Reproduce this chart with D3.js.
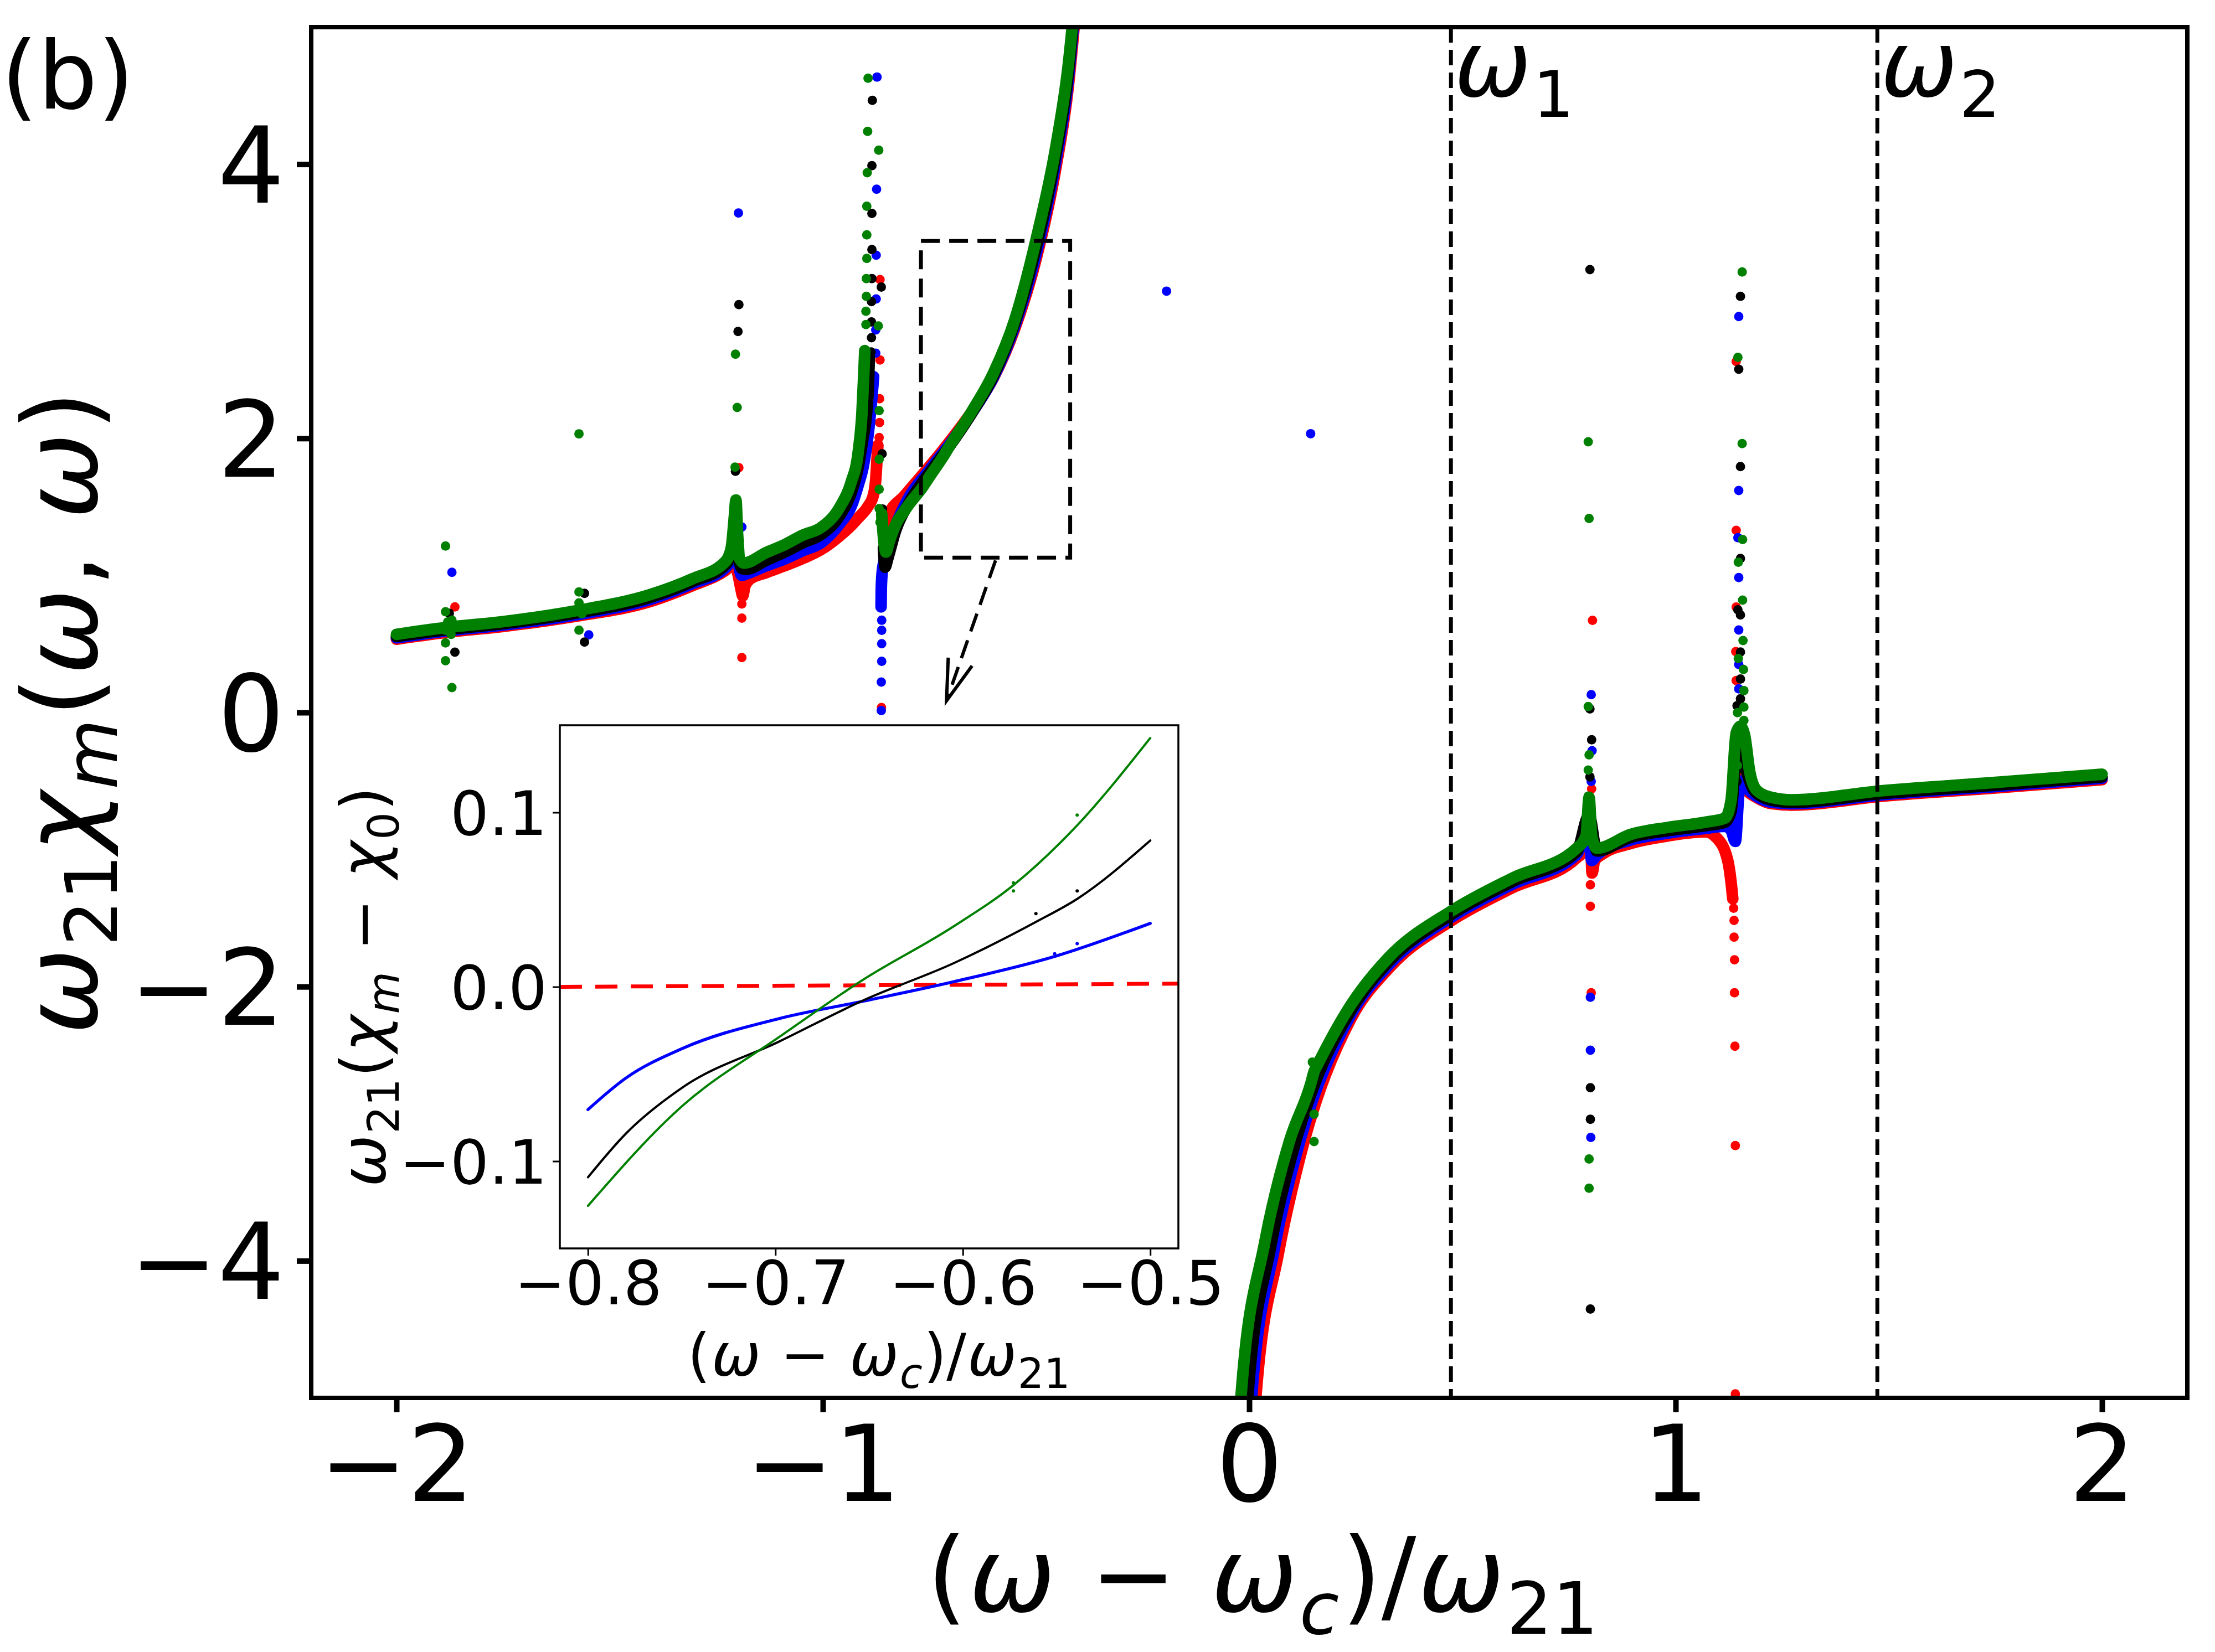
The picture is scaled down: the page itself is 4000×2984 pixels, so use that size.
<!DOCTYPE html>
<html>
<head>
<meta charset="utf-8">
<script src="https://cdn.jsdelivr.net/npm/d3@7"></script>
<style>
  body { margin: 0; background: #fff; }
  text { font-family: "DejaVu Sans", sans-serif; fill: #000; }
</style>
</head>
<body>
<div id="chart"></div>
<script>
// Main panel: curve segments per series (x, y), split at the divergences
const redSegments = [
    [[-2.0, 0.535], [-1.882, 0.585], [-1.753, 0.627], [-1.574, 0.705], [-1.405, 0.81], [-1.3065, 0.925], [-1.229, 1.035], [-1.21, 1.08], [-1.2, 1.02], [-1.192, 0.9], [-1.188, 0.85], [-1.183, 0.92], [-1.17, 0.975], [-1.133, 1.02], [-1.09, 1.07], [-1.047, 1.124], [-1.0035, 1.19], [-0.96, 1.29], [-0.935, 1.36], [-0.917, 1.42], [-0.895, 1.5], [-0.882, 1.58], [-0.876, 1.7], [-0.873, 1.85], [-0.871, 1.95]],
    [[-0.857, 1.25], [-0.854, 1.379], [-0.848, 1.43], [-0.809, 1.58], [-0.765, 1.74], [-0.722, 1.9], [-0.7, 1.987], [-0.65, 2.196], [-0.6, 2.441], [-0.55, 2.8], [-0.5, 3.307], [-0.452, 4.0], [-0.425, 4.55], [-0.405, 5.2]],
    [[0.013, -5.1], [0.016, -4.975], [0.068, -3.95], [0.12, -3.23], [0.239, -2.23], [0.326, -1.87], [0.473, -1.52], [0.616, -1.28], [0.768, -1.06], [0.795, -0.97], [0.8, -0.88], [0.804, -1.17], [0.81, -1.08], [0.83, -1.03], [0.895, -0.955], [0.982, -0.9], [1.07, -0.87], [1.096, -0.914], [1.122, -1.077], [1.131, -1.266], [1.134, -1.36]],
    [[1.155, -0.45], [1.165, -0.56], [1.19, -0.62], [1.226, -0.665], [1.272, -0.675], [1.486, -0.61], [1.75, -0.55], [2.0, -0.49]]
];
const blueSegments = [
    [[-2.0, 0.545], [-1.882, 0.595], [-1.753, 0.637], [-1.574, 0.715], [-1.405, 0.825], [-1.3065, 0.94], [-1.229, 1.055], [-1.21, 1.17], [-1.203, 1.28], [-1.196, 1.05], [-1.19, 1.0], [-1.18, 1.01], [-1.133, 1.07], [-1.09, 1.12], [-1.047, 1.181], [-1.0035, 1.24], [-0.96, 1.38], [-0.934, 1.5], [-0.917, 1.66], [-0.905, 1.8], [-0.893, 2.05], [-0.885, 2.3], [-0.881, 2.45]],
    [[-0.8635, 0.77], [-0.863, 0.9], [-0.861, 1.02], [-0.857, 1.1], [-0.85, 1.2], [-0.829, 1.37], [-0.8, 1.56], [-0.75, 1.77], [-0.7, 1.969], [-0.65, 2.188], [-0.6, 2.445], [-0.55, 2.818], [-0.5, 3.343], [-0.452, 4.05], [-0.425, 4.6], [-0.407, 5.2]],
    [[0.003, -5.1], [0.006, -4.975], [0.058, -3.92], [0.112, -3.2], [0.239, -2.2], [0.326, -1.845], [0.473, -1.495], [0.616, -1.255], [0.768, -1.035], [0.797, -0.85], [0.803, -1.08], [0.815, -1.04], [0.895, -0.93], [0.982, -0.88], [1.07, -0.845], [1.116, -0.83], [1.13, -0.86], [1.14, -0.94], [1.148, -0.6], [1.155, -0.5], [1.17, -0.56], [1.2, -0.63], [1.226, -0.655], [1.272, -0.665], [1.486, -0.6], [1.75, -0.54], [2.0, -0.48]]
];
const blackSegments = [
    [[-2.0, 0.555], [-1.882, 0.605], [-1.753, 0.647], [-1.574, 0.728], [-1.405, 0.84], [-1.3065, 0.955], [-1.229, 1.075], [-1.212, 1.2], [-1.205, 1.38], [-1.198, 1.15], [-1.19, 1.05], [-1.18, 1.045], [-1.133, 1.11], [-1.09, 1.17], [-1.047, 1.238], [-1.0035, 1.3], [-0.96, 1.44], [-0.934, 1.6], [-0.917, 1.79], [-0.906, 2.0], [-0.897, 2.2], [-0.893, 2.4], [-0.891, 2.6]],
    [[-0.858, 1.2], [-0.854, 1.06], [-0.848, 1.12], [-0.829, 1.33], [-0.8, 1.52], [-0.75, 1.748], [-0.7, 1.956], [-0.65, 2.188], [-0.6, 2.457], [-0.55, 2.841], [-0.5, 3.391], [-0.452, 4.1], [-0.425, 4.65], [-0.408, 5.2]],
    [[-0.006, -5.1], [-0.003, -4.975], [0.05, -3.9], [0.105, -3.17], [0.152, -2.72], [0.239, -2.17], [0.326, -1.82], [0.473, -1.475], [0.616, -1.235], [0.768, -1.015], [0.797, -0.75], [0.815, -1.01], [0.895, -0.91], [0.982, -0.862], [1.07, -0.825], [1.116, -0.8], [1.13, -0.72], [1.142, -0.35], [1.152, -0.3], [1.165, -0.42], [1.18, -0.55], [1.2, -0.61], [1.226, -0.64], [1.272, -0.655], [1.486, -0.59], [1.75, -0.53], [2.0, -0.47]]
];
const greenSegments = [
    [[-2.0, 0.57], [-1.882, 0.621], [-1.753, 0.662], [-1.574, 0.745], [-1.405, 0.86], [-1.3065, 0.975], [-1.229, 1.1], [-1.215, 1.2], [-1.207, 1.45], [-1.204, 1.55], [-1.2, 1.3], [-1.195, 1.12], [-1.185, 1.09], [-1.133, 1.167], [-1.09, 1.224], [-1.047, 1.294], [-1.0035, 1.351], [-0.96, 1.5], [-0.934, 1.677], [-0.917, 1.903], [-0.9083, 2.187], [-0.904, 2.47], [-0.9017, 2.64]],
    [[-0.862, 1.45], [-0.857, 1.25], [-0.852, 1.17], [-0.845, 1.24], [-0.829, 1.373], [-0.809, 1.47], [-0.8, 1.51], [-0.765, 1.649], [-0.75, 1.72], [-0.722, 1.847], [-0.7, 1.958], [-0.65, 2.2], [-0.6, 2.476], [-0.55, 2.865], [-0.5, 3.45], [-0.452, 4.155], [-0.425, 4.71], [-0.409, 5.2]],
    [[-0.022, -5.1], [-0.019, -4.975], [0.036, -3.87], [0.094, -3.13], [0.145, -2.7], [0.152, -2.62], [0.16, -2.57], [0.239, -2.13], [0.326, -1.79], [0.473, -1.45], [0.616, -1.21], [0.768, -0.99], [0.79, -0.9], [0.797, -0.62], [0.803, -0.9], [0.815, -0.99], [0.895, -0.889], [0.982, -0.838], [1.07, -0.8], [1.116, -0.77], [1.13, -0.64], [1.142, -0.15], [1.152, -0.1], [1.162, -0.17], [1.174, -0.436], [1.191, -0.57], [1.226, -0.62], [1.272, -0.637], [1.486, -0.57], [1.75, -0.51], [2.0, -0.45]]
];

// Scattered points around the resonances
const redDots = [[-1.863, 0.77], [-1.54, 0.724], [-1.197, 1.786], [-1.19, 0.848], [-1.19, 0.792], [-1.19, 0.689], [-1.19, 0.401],
    [-0.866, 3.158], [-0.866, 2.572], [-0.867, 2.289], [-0.867, 2.115], [-0.868, 2.006], [-0.8625, 0.036],
    [0.805, 0.672], [0.803, -0.557], [0.8, -1.257], [0.8, -1.414], [0.802, -2.045],
    [1.142, 2.561], [1.142, 1.329], [1.142, 0.769], [1.141, 0.444], [1.142, 0.233],
    [1.136, -1.428], [1.137, -1.517], [1.137, -1.639], [1.138, -1.804], [1.138, -2.045], [1.139, -2.434], [1.14, -3.159], [1.14, -4.971]];
const blueDots = [[-1.87, 1.023], [-1.549, 0.566], [-1.198, 3.644], [-1.19, 1.353],
    [-0.873, 4.636], [-0.874, 3.818], [-0.875, 3.336], [-0.875, 3.017], [-0.876, 2.791], [-0.876, 2.621],
    [-0.862, 0.673], [-0.862, 0.6], [-0.862, 0.502], [-0.862, 0.374], [-0.863, 0.222], [-0.863, 0.014],
    [-0.194, 3.074], [0.144, 2.034],
    [0.802, 0.13], [0.804, -0.279], [0.802, -0.503], [0.8, -2.077], [0.8, -2.464], [0.801, -3.1],
    [1.148, 2.889], [1.148, 1.62], [1.146, 1.275], [1.148, 0.984], [1.148, 0.602], [1.148, 0.35], [1.148, 0.173], [1.146, -0.162], [1.14, -0.94]];
const blackDots = [[-1.876, 0.724], [-1.863, 0.44], [-1.559, 0.869], [-1.559, 0.514],
    [-1.197, 2.976], [-1.199, 2.78], [-1.205, 1.76], [-1.207, 1.472], [-1.196, 1.254],
    [-0.884, 4.466], [-0.885, 3.989], [-0.885, 3.641], [-0.885, 3.377], [-0.885, 3.165], [-0.863, 3.104], [-0.886, 2.998], [-0.886, 2.849], [-0.886, 2.734], [-0.887, 2.63], [-0.861, 1.887], [-0.86, 1.484],
    [0.799, 3.231], [0.799, 0.026], [0.803, -0.199], [0.799, -0.47], [0.8, -2.737], [0.8, -2.967], [0.8, -4.352],
    [1.152, 3.036], [1.148, 2.504], [1.152, 1.794], [1.152, 1.124], [1.146, 0.749], [1.152, 0.712], [1.152, 0.441], [1.152, 0.244], [1.152, 0.1], [1.144, 0.049], [1.144, -0.303], [1.144, -0.503]];
const greenDots = [[-1.885, 1.215], [-1.885, 0.735], [-1.87, 0.673], [-1.885, 0.508], [-1.885, 0.378], [-1.87, 0.182], [-1.885, 0.6], [-1.872, 0.57], [-1.88, 0.66],
    [-1.572, 2.033], [-1.572, 0.879], [-1.572, 0.601], [-1.572, 0.8], [-1.565, 0.72],
    [-1.205, 2.614], [-1.201, 2.225], [-1.206, 1.79], [-1.201, 1.528], [-1.208, 1.507], [-1.208, 1.363], [-1.203, 1.291],
    [-0.894, 4.627], [-0.895, 4.24], [-0.869, 4.102], [-0.896, 3.938], [-0.897, 3.693], [-0.897, 3.484], [-0.897, 3.313], [-0.898, 3.165], [-0.898, 3.036], [-0.899, 2.927], [-0.899, 2.83], [-0.87, 2.82], [-0.868, 2.202], [-0.868, 1.848], [-0.868, 1.629], [-0.868, 1.487], [-0.866, 1.388],
    [0.152, -2.93], [0.152, -3.13], [0.148, -2.55],
    [0.795, 1.975], [0.797, 1.416], [0.795, 0.043], [0.797, -0.309], [0.795, -0.42], [0.795, -0.61], [0.797, -3.257], [0.797, -3.47],
    [1.156, 3.214], [1.146, 2.591], [1.156, 1.962], [1.157, 1.262], [1.147, 1.097], [1.157, 0.82], [1.158, 0.525], [1.147, 0.394], [1.159, 0.314], [1.16, 0.16], [1.16, 0.039], [1.145, -0.001], [1.16, -0.058], [1.145, -0.236], [1.145, -0.386]];

// Inset: ω21(χm − χ0) for the zoomed window
const insetGreen = [[-0.8, -0.1256], [-0.7497, -0.0683], [-0.698, -0.0288], [-0.653, 0.0042], [-0.605, 0.0346], [-0.573, 0.0583], [-0.539, 0.0926], [-0.5, 0.1427]];
const insetBlack = [[-0.8, -0.1092], [-0.7798, -0.0842], [-0.7497, -0.0578], [-0.698, -0.0314], [-0.653, -0.0077], [-0.605, 0.0135], [-0.561, 0.0372], [-0.539, 0.0504], [-0.5, 0.0839]];
const insetBlue = [[-0.8, -0.0704], [-0.78, -0.0525], [-0.7497, -0.0354], [-0.698, -0.0182], [-0.653, -0.0082], [-0.605, 0.0029], [-0.551, 0.0174], [-0.5, 0.0364]];
const insetRed = [[-0.815, 0.0], [-0.485, 0.0018]];
const insetStray = [["green", -0.573, 0.0596], ["green", -0.573, 0.055], ["green", -0.539, 0.0985], ["black", -0.561, 0.042], ["black", -0.539, 0.055], ["blue", -0.551, 0.019], ["blue", -0.539, 0.0248]];

// Ticks, markers and annotations
const xTicks = [-2, -1, 0, 1, 2];
const yTicks = [-4, -2, 0, 2, 4];
const insetXTicks = [-0.8, -0.7, -0.6, -0.5];
const insetYTicks = [-0.1, 0.0, 0.1];
const omegaLines = [{ x: 0.473, label: "1" }, { x: 1.473, label: "2" }];
const zoomBox = { x0: -0.77, x1: -0.42, y0: 1.13, y1: 3.44 };
const arrowFrom = [-0.595, 1.11];
const arrowTo = [-0.71, 0.086];

const W = 4000, H = 2984;
const plot = { left: 562, right: 3950, top: 49, bottom: 2525 };
const inset = { left: 1011, right: 2128, top: 1310, bottom: 2255 };

const svg = d3.select("#chart").append("svg")
    .attr("width", W)
    .attr("height", H)
    .style("background", "#fff");

const x = d3.scaleLinear().domain([-2.2, 2.2]).range([plot.left, plot.right]);
const y = d3.scaleLinear().domain([-5, 5]).range([plot.bottom, plot.top]);
const xi = d3.scaleLinear().domain([-0.815, -0.485]).range([inset.left, inset.right]);
const yi = d3.scaleLinear().domain([-0.15, 0.15]).range([inset.bottom, inset.top]);

// mathtext-like label: parts of [text, kind], kind r/i normal or s* subscript
function mathText(sel, parts, size, shiftEm = 0.22) {
    let sub = false;
    const shift = size * shiftEm;
    parts.forEach(([t, kind], i) => {
        const isSub = kind.startsWith("s");
        const ts = sel.append("tspan").text(t)
            .attr("font-style", kind.endsWith("i") ? "italic" : "normal")
            .attr("font-size", isSub ? size * 0.7 : size);
        if (i > 0) ts.attr("dx", size * 0.02);
        if (isSub && !sub) ts.attr("dy", shift);
        if (!isSub && sub) ts.attr("dy", -shift);
        sub = isSub;
    });
}

svg.append("clipPath").attr("id", "plotClip")
    .append("rect")
    .attr("x", plot.left).attr("y", plot.top)
    .attr("width", plot.right - plot.left).attr("height", plot.bottom - plot.top);

const main = svg.append("g").attr("clip-path", "url(#plotClip)");

const line = d3.line()
    .x(d => x(d[0]))
    .y(d => y(d[1]))
    .curve(d3.curveMonotoneX);

const series = [
    { color: "red", segs: redSegments, dots: redDots },
    { color: "blue", segs: blueSegments, dots: blueDots },
    { color: "black", segs: blackSegments, dots: blackDots },
    { color: "green", segs: greenSegments, dots: greenDots }
];

series.forEach(s => {
    const g = main.append("g");
    g.selectAll("path")
        .data(s.segs)
        .enter()
        .append("path")
        .attr("d", line)
        .attr("fill", "none")
        .attr("stroke", s.color)
        .attr("stroke-width", 21)
        .attr("stroke-linecap", "round")
        .attr("stroke-linejoin", "round");
    g.selectAll("circle")
        .data(s.dots)
        .enter()
        .append("circle")
        .attr("cx", d => x(d[0]))
        .attr("cy", d => y(d[1]))
        .attr("r", 8.5)
        .attr("fill", s.color);
});

// vertical omega lines
omegaLines.forEach(o => {
    main.append("line")
        .attr("x1", x(o.x)).attr("x2", x(o.x))
        .attr("y1", y(5)).attr("y2", y(-5))
        .attr("stroke", "black")
        .attr("stroke-width", 7)
        .attr("stroke-dasharray", "28,13");
    const t = svg.append("text")
        .attr("x", x(o.x) + 6)
        .attr("y", 174);
    mathText(t, [["ω", "i"], [o.label, "sr"]], 166);
});

// dashed zoom box and arrow
main.append("rect")
    .attr("x", x(zoomBox.x0))
    .attr("y", y(zoomBox.y1))
    .attr("width", x(zoomBox.x1) - x(zoomBox.x0))
    .attr("height", y(zoomBox.y0) - y(zoomBox.y1))
    .attr("fill", "none")
    .attr("stroke", "black")
    .attr("stroke-width", 7)
    .attr("stroke-dasharray", "34,17");

const ax0 = x(arrowFrom[0]), ay0 = y(arrowFrom[1]);
const ax1 = x(arrowTo[0]), ay1 = y(arrowTo[1]);
main.append("line")
    .attr("x1", ax0).attr("y1", ay0)
    .attr("x2", ax1).attr("y2", ay1)
    .attr("stroke", "black")
    .attr("stroke-width", 6)
    .attr("stroke-dasharray", "34,17");
const ang = Math.atan2(ay0 - ay1, ax0 - ax1);
const headLen = 78, spread = 17 * Math.PI / 180;
main.append("path")
    .attr("d", d3.line()([
        [ax1 + headLen * Math.cos(ang - spread), ay1 + headLen * Math.sin(ang - spread)],
        [ax1, ay1],
        [ax1 + headLen * Math.cos(ang + spread), ay1 + headLen * Math.sin(ang + spread)]
    ]))
    .attr("fill", "none")
    .attr("stroke", "black")
    .attr("stroke-width", 6);

// main axes
const fmt = d3.format("d");
const xAxis = svg.append("g")
    .attr("transform", `translate(0,${plot.bottom})`)
    .call(d3.axisBottom(x).tickValues(xTicks).tickFormat(fmt).tickSize(26).tickPadding(16));
const yAxis = svg.append("g")
    .attr("transform", `translate(${plot.left},0)`)
    .call(d3.axisLeft(y).tickValues(yTicks).tickFormat(fmt).tickSize(26).tickPadding(22));
[xAxis, yAxis].forEach(a => {
    a.select(".domain").remove();
    a.selectAll(".tick line").attr("stroke", "black").attr("stroke-width", 10);
    a.selectAll(".tick text")
        .attr("font-family", "DejaVu Sans")
        .attr("font-size", 190)
        .attr("fill", "black");
});
xAxis.selectAll(".tick text").attr("dy", "0.76em");
yAxis.selectAll(".tick text").attr("dy", "0.36em");

svg.append("rect")
    .attr("x", plot.left).attr("y", plot.top)
    .attr("width", plot.right - plot.left).attr("height", plot.bottom - plot.top)
    .attr("fill", "none")
    .attr("stroke", "black")
    .attr("stroke-width", 8);

const xLabel = svg.append("text")
    .attr("x", 2280)
    .attr("y", 2910)
    .attr("text-anchor", "middle");
mathText(xLabel, [["(", "r"], ["ω", "i"], [" − ", "r"], ["ω", "i"], ["c", "si"], [")/", "r"], ["ω", "i"], ["21", "sr"]], 186);

const yLabel = svg.append("text")
    .attr("transform", `translate(174,${(plot.top + plot.bottom) / 2}) rotate(-90)`)
    .attr("text-anchor", "middle");
mathText(yLabel, [["ω", "i"], ["21", "sr"], ["χ", "i"], ["m", "si"], ["(", "r"], ["ω", "i"], [", ", "r"], ["ω", "i"], [")", "r"]], 186, 0.2);

svg.append("text")
    .attr("x", 2)
    .attr("y", 196)
    .attr("font-size", 170)
    .text("(b)");

// inset axes
svg.append("rect")
    .attr("x", inset.left).attr("y", inset.top)
    .attr("width", inset.right - inset.left).attr("height", inset.bottom - inset.top)
    .attr("fill", "white");

svg.append("clipPath").attr("id", "insetClip")
    .append("rect")
    .attr("x", inset.left).attr("y", inset.top)
    .attr("width", inset.right - inset.left).attr("height", inset.bottom - inset.top);
const ig = svg.append("g").attr("clip-path", "url(#insetClip)");

const iline = d3.line()
    .x(d => xi(d[0]))
    .y(d => yi(d[1]))
    .curve(d3.curveMonotoneX);

ig.append("path").datum(insetRed)
    .attr("d", iline)
    .attr("fill", "none")
    .attr("stroke", "red")
    .attr("stroke-width", 7)
    .attr("stroke-dasharray", "40,24");

[[insetBlue, "blue", 5.5], [insetBlack, "black", 4], [insetGreen, "green", 4]].forEach(([data, c, w]) => {
    ig.append("path").datum(data)
        .attr("d", iline)
        .attr("fill", "none")
        .attr("stroke", c)
        .attr("stroke-width", w)
        .attr("stroke-linecap", "round");
});

ig.selectAll("circle.stray")
    .data(insetStray)
    .enter()
    .append("circle")
    .attr("cx", d => xi(d[1]))
    .attr("cy", d => yi(d[2]))
    .attr("r", 3)
    .attr("fill", d => d[0]);

const ifmt = d3.format(".1f");
const ixAxis = svg.append("g")
    .attr("transform", `translate(0,${inset.bottom})`)
    .call(d3.axisBottom(xi).tickValues(insetXTicks).tickFormat(ifmt).tickSize(13).tickPadding(4));
const iyAxis = svg.append("g")
    .attr("transform", `translate(${inset.left},0)`)
    .call(d3.axisLeft(yi).tickValues(insetYTicks).tickFormat(ifmt).tickSize(13).tickPadding(10));
[ixAxis, iyAxis].forEach(a => {
    a.select(".domain").remove();
    a.selectAll(".tick line").attr("stroke", "black").attr("stroke-width", 3);
    a.selectAll(".tick text")
        .attr("font-family", "DejaVu Sans")
        .attr("font-size", 110)
        .attr("fill", "black");
});
ixAxis.selectAll(".tick text").attr("dy", "0.76em");
iyAxis.selectAll(".tick text").attr("dy", "0.36em");

svg.append("rect")
    .attr("x", inset.left).attr("y", inset.top)
    .attr("width", inset.right - inset.left).attr("height", inset.bottom - inset.top)
    .attr("fill", "none")
    .attr("stroke", "black")
    .attr("stroke-width", 3.5);

const ixLabel = svg.append("text")
    .attr("x", 1587)
    .attr("y", 2484)
    .attr("text-anchor", "middle");
mathText(ixLabel, [["(", "r"], ["ω", "i"], [" − ", "r"], ["ω", "i"], ["c", "si"], [")/", "r"], ["ω", "i"], ["21", "sr"]], 106);

const iyLabel = svg.append("text")
    .attr("transform", `translate(695,${(inset.top + inset.bottom) / 2}) rotate(-90)`)
    .attr("text-anchor", "middle");
mathText(iyLabel, [["ω", "i"], ["21", "sr"], ["(", "r"], ["χ", "i"], ["m", "si"], [" − ", "r"], ["χ", "i"], ["0", "sr"], [")", "r"]], 112);
</script>
</body>
</html>
